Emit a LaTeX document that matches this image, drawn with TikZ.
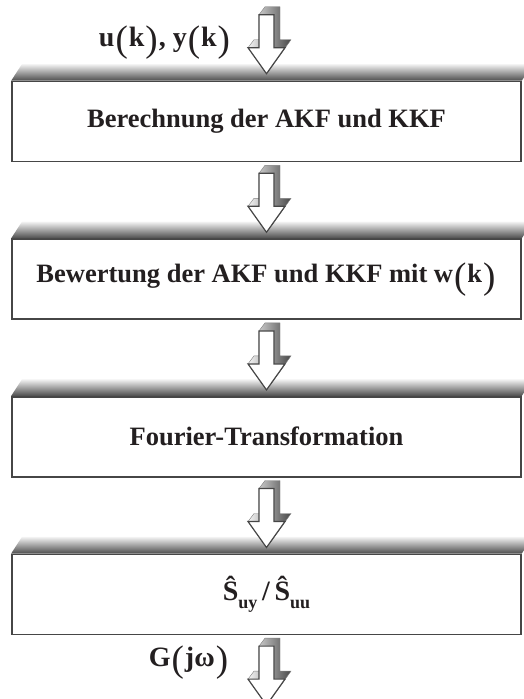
\documentclass[tikz,border=0pt]{standalone}
\usepackage{fontspec}
\setmainfont{Liberation Serif}
\usetikzlibrary{positioning}

\definecolor{inkblack}{HTML}{231F20}
\definecolor{edgegray}{HTML}{464646}

% tall thin brackets as in the formula editor
\newcommand{\bpar}[1]{{\mdseries\fontsize{37}{37}\selectfont\kern1pt\raisebox{-0.14em}{#1}\kern1pt}}
\newcommand{\lowidx}[1]{\raisebox{-0.3em}{\fontsize{18}{18}\selectfont #1}}

\begin{document}
\begin{tikzpicture}[
    x=1pt, y=-1pt,
    stage/.style={draw=edgegray, line width=1.6pt, fill=white,
        minimum width=509pt, minimum height=80pt, inner sep=0pt,
        font=\fontsize{26.5}{30}\selectfont\bfseries, text=inkblack},
    lid/.style={top color=gray!6, bottom color=black!70},
    signal/.style={font=\fontsize{28}{30}\selectfont\bfseries, text=inkblack},
    blockarrow/.pic={
        \shade[left color=gray!8, right color=black!72, draw=gray, line width=0.4pt]
            (0,59) -- (-18.5,33) -- (-12.5,25) -- (-7.5,25) -- (-7.5,0) -- (-1.5,-8)
            -- (13.5,-8) -- (13.5,25) -- (24.5,25) -- (6,51) -- cycle;
        \filldraw[fill=white, draw=edgegray, line width=1.2pt, line join=miter]
            (-7.5,0) -- (7.5,0) -- (7.5,33) -- (18.5,33) -- (0,59)
            -- (-18.5,33) -- (-7.5,33) -- cycle;
    }
]
    \useasboundingbox (0,0) rectangle (524,699);

    % Draw the processing stages
    \node[stage] (b1) at (266.5,121.5) {Berechnung der AKF und KKF};
    \node[stage, below=76pt of b1] (b2) {Bewertung der AKF und KKF mit w\bpar{(}k\bpar{)}};
    \node[stage, below=76pt of b2] (b3) {Fourier-Transformation};
    \node[stage, below=76pt of b3, font=\fontsize{28}{30}\selectfont\bfseries] (b4)
        {Ŝ\lowidx{uy}\,/\,Ŝ\lowidx{uu}};

    % Shaded top faces
    \foreach \b in {b1,b2,b3,b4}
        \shade[lid] (\b.north west) -- ++(11,-17) -- ([shift={(11,-17)}]\b.north east)
            -- (\b.north east) -- cycle;

    % Block arrows between the stages
    \pic at ([yshift=66pt]b1.north) {blockarrow};
    \foreach \b in {b1,b2,b3,b4}
        \pic at ([yshift=-11pt]\b.south) {blockarrow};

    % Input and output signals
    \node[signal] (uin) at (165,43) {u\bpar{(}k\bpar{)}, y\bpar{(}k\bpar{)}};
    \node[signal] (gout) at (189,663) {G\bpar{(}jω\bpar{)}};
\end{tikzpicture}
\end{document}
